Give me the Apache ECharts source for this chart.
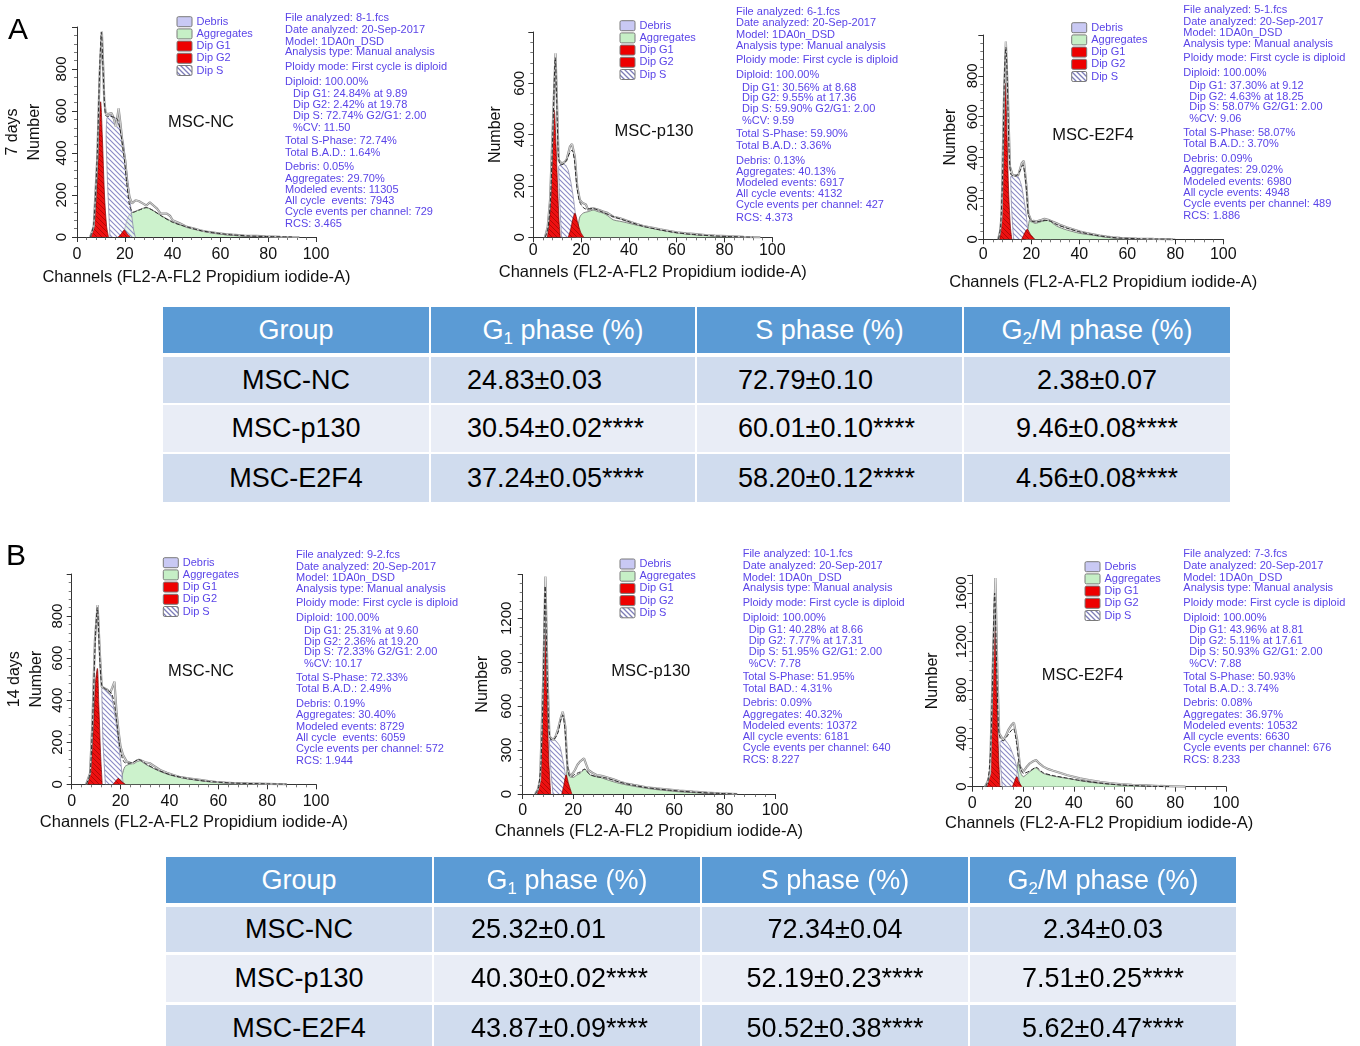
<!DOCTYPE html>
<html><head><meta charset="utf-8">
<script src="https://cdn.jsdelivr.net/npm/echarts@6/dist/echarts.min.js"></script>
<style>
html,body{margin:0;padding:0;background:#fff;width:1360px;height:1046px;overflow:hidden;}
#chart{position:absolute;left:0;top:0;width:1360px;height:1046px;}
.cell{position:absolute;box-sizing:border-box;font-family:"Liberation Sans",Arial,Helvetica,sans-serif;font-size:27px;display:flex;align-items:center;white-space:nowrap;color:#000;}
.cell sub{font-size:17px;vertical-align:-5px;line-height:0;}
.hdr{background:#5b9bd5;color:#fff;justify-content:center;}
.r1{background:#d0dcee;}
.r2{background:#e9edf6;}
</style></head><body>
<div id="chart"></div>
<div id="tables"></div>
<script>
// ---------------- DATA ----------------
const xAxisTitle = 'Channels (FL2-A-FL2 Propidium iodide-A)';
const legendItems = ['Debris', 'Aggregates', 'Dip G1', 'Dip G2', 'Dip S'];
const groupNames = ['MSC-NC', 'MSC-p130', 'MSC-E2F4'];
const panelLetters = ['A', 'B'];

// Panel A1 (7 days, MSC-NC)
const A1_data = [[5.5,0],[7,50],[8.5,380],[9.5,780],[10.4,978],[11,800],[11.4,650],[12,590],[13,585],[14.5,590],[15.5,560],[16.3,525],[17.4,612],[18.2,540],[19.2,430],[20.2,365],[21,260],[22,190],[23,160],[24.5,175],[26,170],[27.5,160],[29,150],[30.5,165],[32,150],[33.5,135],[35,111],[37.6,111],[39,100],[40,80],[43,65],[46,48],[49,40],[51.5,32],[55,24],[58.5,19],[62,14],[65,11],[70,7],[75,5],[79,3],[85,1],[93,0]];
const A1_fit = [[5.6,0],[7,60],[8.5,400],[9.5,800],[10.2,975],[10.9,800],[11.6,620],[12.3,575],[14,575],[15.5,570],[17,560],[18.5,480],[19.8,370],[20.8,260],[22,150],[23.5,118],[26,128],[29,140],[32,125],[36,95],[40,70],[46,48],[52,30],[58,19],[65,10],[72,5],[80,2],[90,0]];
const A1_g1 = [[5.6,0],[7,40],[8.2,200],[9.2,480],[9.9,644],[10.6,480],[11.5,200],[12.4,50],[13.2,0]];
const A1_s = [[13.8,0],[12.8,250],[12.2,480],[12.5,565],[13.5,578],[15.3,575],[16.5,560],[17.4,540],[18.5,490],[19.5,445],[20.5,340],[21.6,238],[22.7,120],[23.7,32],[24.4,0]];
const A1_g2 = [[17.3,0],[18.5,15],[19.8,33],[21,15],[22.3,0]];
const A1_agg = [[18.7,0],[20,40],[21,85],[22.3,111],[24,120],[26,130],[29,140],[32,125],[35,103],[37.6,87],[40,72],[43,58],[46,48],[50,35],[54,24],[58,16],[62,11],[66,7],[72,4],[79,2],[88,0]];
const A1_info = ['File analyzed: 8-1.fcs','Date analyzed: 20-Sep-2017','Model: 1DA0n_DSD','Analysis type: Manual analysis','Ploidy mode: First cycle is diploid','Diploid: 100.00%','Dip G1: 24.84% at 9.89','Dip G2: 2.42% at 19.78','Dip S: 72.74% G2/G1: 2.00','%CV: 11.50','Total S-Phase: 72.74%','Total B.A.D.: 1.64%','Debris: 0.05%','Aggregates: 29.70%','Modeled events: 11305','All cycle  events: 7943','Cycle events per channel: 729','RCS: 3.465'];

// Panel A2 (7 days, MSC-p130)
const A2_data = [[4.9,0],[6,40],[7,145],[8.4,496],[9.3,717],[10,496],[10.6,301],[11.9,288],[13,292],[13.9,301],[15.3,353],[16.2,364],[17.4,314],[18.4,197],[19.5,145],[20.5,135],[21.2,132],[22,128],[23,106],[24,112],[25.1,113],[27,108],[29.3,100],[31,95],[33.5,80],[36,75],[39,65],[42,56],[46,44],[50,37],[53,31],[57,24],[60,19],[64,15],[67,13],[72,9],[76,7],[81,5],[88,2],[95,0]];
const A2_fit = [[5,0],[6.2,40],[7.2,150],[8.3,450],[9.2,700],[9.9,500],[10.5,320],[11.3,282],[12.5,285],[13.9,300],[15.3,330],[16.2,340],[17.2,300],[18.2,200],[19.3,140],[20.5,120],[22,110],[25,112],[29,98],[33,82],[39,64],[46,43],[53,29],[60,18],[67,11],[75,6],[82,3],[92,0]];
const A2_g1 = [[5.9,0],[7,94],[7.9,300],[8.8,496],[9.5,360],[10.2,190],[10.8,60],[11.3,0]];
const A2_s = [[11.8,0],[11,150],[10.6,275],[11.5,285],[12.6,288],[13.6,280],[14.6,262],[15.7,215],[16.7,158],[17.5,100],[18.1,55],[18.8,0]];
const A2_g2 = [[14.6,0],[15.6,30],[16.5,70],[17.4,94],[18.5,60],[19.8,20],[21.2,0]];
const A2_agg = [[18,0],[18.8,45],[19.5,80],[21,95],[23,100],[25.1,106],[27,100],[29.3,94],[31,85],[33.5,68],[36,63],[39,57],[42,50],[46,42],[50,35],[53,29],[57,23],[60,18],[64,13],[67,10],[72,7],[76,5],[81,3],[86,0]];
const A2_info = ['File analyzed: 6-1.fcs','Date analyzed: 20-Sep-2017','Model: 1DA0n_DSD','Analysis type: Manual analysis','Ploidy mode: First cycle is diploid','Diploid: 100.00%','Dip G1: 30.56% at 8.68','Dip G2: 9.55% at 17.36','Dip S: 59.90% G2/G1: 2.00','%CV: 9.59','Total S-Phase: 59.90%','Total B.A.D.: 3.36%','Debris: 0.13%','Aggregates: 40.13%','Modeled events: 6917','All cycle events: 4132','Cycle events per channel: 427','RCS: 4.373'];

// Panel A3 (7 days, MSC-E2F4)
const A3_data = [[6.2,0],[7,40],[7.6,111],[8.6,682],[9.4,968],[10.3,682],[11.1,356],[12.2,315],[13.5,312],[14.6,315],[16,372],[16.9,384],[18,258],[18.75,127],[20.1,87],[21,90],[22.2,87],[23.3,92],[24.3,95],[25.5,100],[27,95],[28.5,88],[30.6,78],[32.5,68],[34.7,59],[37,50],[40.3,38],[43,30],[45.8,24],[48.5,18],[51.4,13],[54,10],[57,7],[64,4],[71,2],[79,0]];
const A3_fit = [[6.3,0],[7.2,60],[8,300],[8.8,800],[9.4,940],[10,780],[10.7,450],[11.4,320],[12.5,310],[14,312],[15.3,335],[16.5,365],[17.3,320],[18,240],[18.8,120],[20,90],[22.2,85],[24.3,90],[27,92],[30.6,72],[34.7,55],[40.3,36],[45.8,22],[51.4,12],[57,6],[64,3],[72,1],[80,0]];
const A3_g1 = [[6.9,0],[7.7,120],[8.5,450],[9.2,764],[9.9,500],[10.6,220],[11.3,60],[11.9,0]];
const A3_s = [[12.6,0],[11.8,150],[11.4,307],[12.5,312],[13.9,315],[15,295],[16,258],[17,190],[17.8,127],[18.3,70],[18.75,29],[19.4,0]];
const A3_g2 = [[16,0],[17,25],[18.3,49],[19.6,25],[21.5,0]];
const A3_agg = [[17.8,0],[18.6,50],[19.4,95],[20.5,85],[21.5,78],[23,82],[24.3,87],[25.5,92],[27,95],[28.5,82],[30.6,65],[32.5,55],[34.7,46],[37.5,37],[40.3,29],[43,24],[45.8,20],[48.5,15],[51.4,10],[54,6],[57,3],[62,0]];
const A3_info = ['File analyzed: 5-1.fcs','Date analyzed: 20-Sep-2017','Model: 1DA0n_DSD','Analysis type: Manual analysis','Ploidy mode: First cycle is diploid','Diploid: 100.00%','Dip G1: 37.30% at 9.12','Dip G2: 4.63% at 18.25','Dip S: 58.07% G2/G1: 2.00','%CV: 9.06','Total S-Phase: 58.07%','Total B.A.D.: 3.70%','Debris: 0.09%','Aggregates: 29.02%','Modeled events: 6980','All cycle events: 4948','Cycle events per channel: 489','RCS: 1.886'];

// Panel B1 (14 days, MSC-NC)
const B1_data = [[5.9,0],[7.5,52],[8.5,300],[9.5,686],[10.6,852],[11.6,607],[12.3,464],[13,455],[13.6,456],[14.6,450],[15.7,433],[16.6,460],[17.5,488],[18.4,338],[19.2,250],[20,179],[21,140],[22.5,108],[24,102],[25.2,100],[26.5,110],[28,116],[30,105],[32,100],[34,85],[36.2,68],[39,55],[41.6,44],[44,36],[47,29],[50,25],[52.5,21],[56,15],[59.3,11],[63,8],[66,6],[72,4],[80,2],[88,0]];
const B1_fit = [[6,0],[7.5,50],[8.6,320],[9.7,700],[10.5,840],[11.4,620],[12.3,470],[13.6,455],[15,445],[16.4,430],[17.5,380],[18.4,300],[19.4,200],[20.3,140],[21.5,105],[23,100],[25.2,105],[27.3,118],[30.7,95],[34.8,70],[40.2,46],[47,28],[55,15],[66,6],[80,2],[88,0]];
const B1_g1 = [[6.5,0],[7.7,60],[8.8,250],[9.7,480],[10.5,551],[11.1,380],[11.8,150],[12.5,0]];
const B1_s = [[13.8,0],[12.8,200],[12.3,456],[13.2,455],[14.3,448],[15.4,435],[16.4,417],[17.4,350],[18.4,274],[19.2,190],[20,116],[20.6,50],[21.1,0]];
const B1_g2 = [[17,0],[18,15],[19.1,28],[20.3,15],[22,0]];
const B1_agg = [[19.8,0],[20.7,45],[21.8,84],[23.5,95],[25.2,100],[26.3,112],[27.3,119],[29,105],[30.7,92],[32.7,80],[34.8,68],[37.5,55],[40.2,44],[43.5,35],[47,27],[51,20],[55,14],[60,9],[66,6],[72,4],[80,2],[88,0]];
const B1_info = ['File analyzed: 9-2.fcs','Date analyzed: 20-Sep-2017','Model: 1DA0n_DSD','Analysis type: Manual analysis','Ploidy mode: First cycle is diploid','Diploid: 100.00%','Dip G1: 25.31% at 9.60','Dip G2: 2.36% at 19.20','Dip S: 72.33% G2/G1: 2.00','%CV: 10.17','Total S-Phase: 72.33%','Total B.A.D.: 2.49%','Debris: 0.19%','Aggregates: 30.40%','Modeled events: 8729','All cycle  events: 6059','Cycle events per channel: 572','RCS: 1.944'];

// Panel B2 (14 days, MSC-p130)
const B2_data = [[4.9,0],[6,30],[6.9,96],[8.2,825],[9,1485],[9.8,825],[10.6,392],[12.2,369],[13.2,400],[14.1,449],[15.1,520],[15.9,563],[16.9,460],[17.7,187],[18.8,118],[19.8,140],[20.7,164],[21.7,200],[22.7,221],[24.3,244],[25.2,200],[26,164],[27.6,145],[29.3,130],[31.3,124],[33.3,114],[36,100],[38.6,84],[41,72],[43.9,62],[46.5,54],[49,46],[53,38],[57,32],[62,24],[67.6,16],[73,10],[78,5],[85,0]];
const B2_fit = [[5,0],[6.2,40],[7.2,200],[8.2,800],[8.9,1420],[9.6,900],[10.4,450],[11.2,370],[12.5,375],[14,420],[15,500],[15.9,540],[16.8,430],[17.6,220],[18.5,125],[19.5,120],[20.7,135],[22.7,150],[24.5,170],[26.5,135],[29.3,118],[33.3,108],[38.6,80],[43.9,60],[49,44],[57,28],[67.6,13],[78,4],[85,0]];
const B2_g1 = [[5.8,0],[7,120],[8,600],[8.85,1110],[9.6,700],[10.3,250],[11.1,0]];
const B2_s = [[12,0],[11,200],[10.6,369],[11.7,372],[12.8,369],[13.8,350],[14.8,323],[15.6,260],[16.4,187],[17,120],[17.4,73],[18.1,0]];
const B2_g2 = [[15.5,0],[16.3,60],[17.2,130],[18.2,70],[19.5,0]];
const B2_agg = [[16.8,0],[17.3,100],[17.7,187],[18.2,140],[18.8,118],[20,114],[21.3,128],[22.7,141],[24.7,169],[25.7,150],[26.7,130],[28.5,120],[30.6,114],[33,100],[35.9,84],[38.5,72],[41.2,62],[45,50],[49,39],[53,30],[57,23],[62,15],[67.6,9],[73,4],[78,0]];
const B2_info = ['File analyzed: 10-1.fcs','Date analyzed: 20-Sep-2017','Model: 1DA0n_DSD','Analysis type: Manual analysis','Ploidy mode: First cycle is diploid','Diploid: 100.00%','Dip G1: 40.28% at 8.66','Dip G2: 7.77% at 17.31','Dip S: 51.95% G2/G1: 2.00','%CV: 7.78','Total S-Phase: 51.95%','Total BAD.: 4.31%','Debris: 0.09%','Aggregates: 40.32%','Modeled events: 10372','All cycle events: 6181','Cycle events per channel: 640','RCS: 8.227'];

// Panel B3 (14 days, MSC-E2F4)
const B3_data = [[5,0],[6,40],[7,110],[8,938],[9.1,1724],[9.9,938],[10.6,441],[12.2,386],[13.2,420],[14.2,469],[15.3,505],[16.4,530],[17.7,386],[18.8,166],[20.1,124],[21.3,160],[22.7,193],[24,210],[25.1,221],[26.5,190],[28,166],[30,145],[31.9,132],[34.5,115],[37.2,97],[40,82],[42.4,69],[46,55],[50.3,41],[54,30],[58.2,22],[63,16],[68.7,11],[74,6],[79,3],[84,0]];
const B3_fit = [[5.2,0],[6.2,50],[7.2,300],[8,900],[8.8,1600],[9.6,1000],[10.3,500],[11,400],[12.2,380],[13.5,410],[14.8,450],[16.2,480],[17.3,380],[18.3,220],[19.2,140],[20.1,110],[22.7,130],[25.1,160],[28,115],[31.9,92],[37.2,72],[42.4,52],[50.3,30],[58.2,15],[68.7,5],[78,0]];
const B3_g1 = [[6,0],[7,150],[7.9,700],[8.8,1420],[9.6,800],[10.3,300],[10.9,0]];
const B3_s = [[11.8,0],[11.1,200],[10.9,372],[11.9,385],[12.9,386],[13.9,360],[14.8,331],[15.8,280],[16.8,221],[17.5,160],[18.1,110],[18.5,50],[18.8,0]];
const B3_g2 = [[15.8,0],[16.6,40],[17.5,83],[18.4,40],[19.5,0]];
const B3_agg = [[16.8,0],[17.5,100],[18.1,207],[18.8,130],[20.1,83],[21.3,100],[22.7,124],[24,145],[25.1,157],[26.5,130],[28,110],[30,97],[31.9,88],[34.5,78],[37.2,69],[40,59],[42.4,50],[46,38],[50.3,28],[54,20],[58.2,14],[63,8],[68.7,3],[72,0]];
const B3_info = ['File analyzed: 7-3.fcs','Date analyzed: 20-Sep-2017','Model: 1DA0n_DSD','Analysis type: Manual analysis','Ploidy mode: First cycle is diploid','Diploid: 100.00%','Dip G1: 43.96% at 8.81','Dip G2: 5.11% at 17.61','Dip S: 50.93% G2/G1: 2.00','%CV: 7.88','Total S-Phase: 50.93%','Total B.A.D.: 3.74%','Debris: 0.08%','Aggregates: 36.97%','Modeled events: 10532','All cycle events: 6630','Cycle events per channel: 676','RCS: 8.233'];

// Tables
const tableHeaders = ['Group', 'G<sub>1</sub> phase (%)', 'S phase (%)', 'G<sub>2</sub>/M phase (%)'];
const tA_G1 = ['24.83±0.03', '30.54±0.02****', '37.24±0.05****'];
const tA_S = ['72.79±0.10', '60.01±0.10****', '58.20±0.12****'];
const tA_G2M = ['2.38±0.07', '9.46±0.08****', '4.56±0.08****'];
const tB_G1 = ['25.32±0.01', '40.30±0.02****', '43.87±0.09****'];
const tB_S = ['72.34±0.04', '52.19±0.23****', '50.52±0.38****'];
const tB_G2M = ['2.34±0.03', '7.51±0.25****', '5.62±0.47****'];

// ---------------- STYLE / LAYOUT ----------------
const FONT = '"Liberation Sans", Arial, Helvetica, sans-serif';
const INFO_COLOR = '#5a44e8';

function hatch(bg, fg, size, lw) {
  const c = document.createElement('canvas');
  c.width = size; c.height = size;
  const ctx = c.getContext('2d');
  if (bg) { ctx.fillStyle = bg; ctx.fillRect(0, 0, size, size); }
  ctx.strokeStyle = fg; ctx.lineWidth = lw; ctx.lineCap = 'square';
  ctx.beginPath();
  ctx.moveTo(-1, -1); ctx.lineTo(size + 1, size + 1);
  ctx.moveTo(size - 1, -1); ctx.lineTo(size + 1, 1);
  ctx.moveTo(-1, size - 1); ctx.lineTo(1, size + 1);
  ctx.stroke();
  return c;
}
const sPattern = { image: hatch('rgba(255,255,255,0.55)', '#8a8ac6', 5, 1.1), repeat: 'repeat' };
const sLegendPattern = { image: hatch('#ffffff', '#7c7cb8', 5, 1.3), repeat: 'repeat' };
const redPattern = { image: hatch('#ee1010', 'rgba(110,0,0,0.55)', 5, 0.9), repeat: 'repeat' };
const legendFills = ['#c9c9f4', '#c6efc6', '#ee0000', '#ee0000', sLegendPattern];

const panels = [
  { grid:{left:77,top:27,width:239,height:210}, yMax:1000, yInt:200, yLabMax:800, xLabM:10, xNameGap:31.5, yLabM:8, yNameGap:32, yName:'7 days\nNumber',
    d:[A1_data,A1_fit,A1_g1,A1_s,A1_g2,A1_agg], info:A1_info, infoPos:[285,18.3], ind:8, legend:[177,21.7], group:0, groupPos:[201,122] },
  { grid:{left:533.3,top:32,width:239,height:205.3}, yMax:800, yInt:200, yLabMax:600, xLabM:5.5, xNameGap:27, yLabM:6, yNameGap:27, yName:'Number',
    d:[A2_data,A2_fit,A2_g1,A2_s,A2_g2,A2_agg], info:A2_info, infoPos:[736,11.7], ind:6, legend:[620,25.7], group:1, groupPos:[654,131.7] },
  { grid:{left:983.3,top:35,width:240,height:204.3}, yMax:1000, yInt:200, yLabMax:800, xLabM:7.7, xNameGap:35, yLabM:3, yNameGap:22, yName:'Number',
    d:[A3_data,A3_fit,A3_g1,A3_s,A3_g2,A3_agg], info:A3_info, infoPos:[1183.3,10], ind:6, legend:[1071.7,27.7], group:2, groupPos:[1093,135] },
  { grid:{left:71.7,top:574,width:244.3,height:210.3}, yMax:1000, yInt:200, yLabMax:800, xLabM:9.4, xNameGap:30, yLabM:6, yNameGap:24.4, yName:'14 days\nNumber',
    d:[B1_data,B1_fit,B1_g1,B1_s,B1_g2,B1_agg], info:B1_info, infoPos:[296,555], ind:8, legend:[163.3,562.7], group:0, groupPos:[201,671.7] },
  { grid:{left:522.7,top:574.4,width:252.3,height:219.6}, yMax:1500, yInt:300, yLabMax:1200, xLabM:8.7, xNameGap:29.4, yLabM:8.5, yNameGap:29.7, yName:'Number',
    d:[B2_data,B2_fit,B2_g1,B2_s,B2_g2,B2_agg], info:B2_info, infoPos:[742.7,554.3], ind:6, legend:[620,564], group:1, groupPos:[650.8,671.7] },
  { grid:{left:972.3,top:575,width:253.7,height:211.7}, yMax:1750, yInt:400, yLabMax:1600, xLabM:8.6, xNameGap:28.4, yLabM:3, yNameGap:29.3, yName:'Number',
    d:[B3_data,B3_fit,B3_g1,B3_s,B3_g2,B3_agg], info:B3_info, infoPos:[1183.3,554.3], ind:6, legend:[1085,566.7], group:2, groupPos:[1082.5,675] }
];
const infoOffsets = [0,11.7,23.4,34,48.4,63.4,76,86.7,97.4,109.4,122.7,134.4,149,160.4,171.7,182.7,193.7,206];

const option = { animation:false, backgroundColor:'#ffffff', grid:[], xAxis:[], yAxis:[], series:[], graphic:[] };
const axisCommon = {
  axisLine:{ show:true, onZero:false, lineStyle:{ color:'#333', width:1 } },
  axisTick:{ show:true, length:5, lineStyle:{ color:'#333', width:1 } },
  minorTick:{ show:true, splitNumber:5, length:3, lineStyle:{ color:'#555', width:0.8 } },
  splitLine:{ show:false }, minorSplitLine:{ show:false }
};

panels.forEach((p, i) => {
  option.grid.push(Object.assign({ containLabel:false }, p.grid));
  option.xAxis.push(Object.assign({}, axisCommon, {
    type:'value', gridIndex:i, min:0, max:100, interval:20,
    name:xAxisTitle, nameLocation:'middle', nameGap:p.xNameGap,
    nameTextStyle:{ fontSize:16.5, color:'#111', fontFamily:FONT },
    axisLabel:{ fontSize:16, color:'#111', fontFamily:FONT, margin:p.xLabM }
  }));
  option.yAxis.push(Object.assign({}, axisCommon, {
    type:'value', gridIndex:i, min:0, max:p.yMax, interval:p.yInt,
    name:p.yName, nameLocation:'middle', nameRotate:90, nameGap:p.yNameGap,
    nameTextStyle:{ fontSize:16, color:'#111', fontFamily:FONT, lineHeight:21.5 },
    axisLabel:{ rotate:90, fontSize:15, color:'#111', fontFamily:FONT, margin:p.yLabM,
      formatter:(v) => (v > p.yLabMax ? '' : String(v)) }
  }));
  const [data, fit, g1, s, g2, agg] = p.d;
  const base = { type:'line', xAxisIndex:i, yAxisIndex:i, showSymbol:false, symbol:'none', silent:true };
  option.series.push(Object.assign({}, base, { name:'Aggregates', data:agg, smooth:0.3, z:1,
    areaStyle:{ color:'#ccf2cc', opacity:1 }, lineStyle:{ color:'#6a6a6a', width:0.8 } }));
  option.series.push(Object.assign({}, base, { name:'Dip S', data:s, smooth:0.15, z:2,
    areaStyle:{ color:sPattern, opacity:1 }, lineStyle:{ color:'#8a8aa8', width:0.8 } }));
  option.series.push(Object.assign({}, base, { name:'Dip G1', data:g1, smooth:0.3, z:3,
    areaStyle:{ color:redPattern, opacity:1 }, lineStyle:{ color:'#7a0000', width:0.7 } }));
  option.series.push(Object.assign({}, base, { name:'Dip G2', data:g2, smooth:0.3, z:3,
    areaStyle:{ color:redPattern, opacity:1 }, lineStyle:{ color:'#7a0000', width:0.7 } }));
  option.series.push(Object.assign({}, base, { name:'Data', data:data, z:4,
    lineStyle:{ color:'#8c8c8c', width:2.2 } }));
  option.series.push(Object.assign({}, base, { name:'Data inner', data:data, z:5,
    lineStyle:{ color:'#f2f2f2', width:0.7 } }));
  option.series.push(Object.assign({}, base, { name:'Fit', data:fit, smooth:0.25, z:6,
    lineStyle:{ color:'#2a2a2a', width:1, type:[4,2] } }));

  // legend
  legendItems.forEach((name, k) => {
    const y = p.legend[1] + k * 12.2;
    option.graphic.push({ type:'rect', silent:true, shape:{ x:p.legend[0], y:y - 5, width:15, height:10, r:1.5 },
      style:{ fill:legendFills[k], stroke:'#7a7a7a', lineWidth:1 } });
    option.graphic.push({ type:'text', silent:true, x:p.legend[0] + 19.5, y:y,
      style:{ text:name, fontSize:11, fontFamily:FONT, fill:INFO_COLOR, verticalAlign:'middle', align:'left' } });
  });
  // info block
  p.info.forEach((line, k) => {
    const indent = (k >= 6 && k <= 9) ? p.ind : 0;
    option.graphic.push({ type:'text', silent:true, x:p.infoPos[0] + indent, y:p.infoPos[1] + infoOffsets[k],
      style:{ text:line, fontSize:11, fontFamily:FONT, fill:INFO_COLOR, verticalAlign:'middle', align:'left' } });
  });
  // group label
  option.graphic.push({ type:'text', silent:true, x:p.groupPos[0], y:p.groupPos[1],
    style:{ text:groupNames[p.group], fontSize:16.5, fontFamily:FONT, fill:'#111', verticalAlign:'middle', align:'center' } });
});
option.graphic.push({ type:'text', silent:true, x:8, y:31, style:{ text:panelLetters[0], fontSize:30, fontFamily:FONT, fill:'#000', verticalAlign:'middle' } });
option.graphic.push({ type:'text', silent:true, x:6, y:557, style:{ text:panelLetters[1], fontSize:30, fontFamily:FONT, fill:'#000', verticalAlign:'middle' } });

const chart = echarts.init(document.getElementById('chart'), null, { renderer:'canvas', width:1360, height:1046 });
chart.setOption(option);

// ---------------- TABLES ----------------
function buildTable(colX, colW, rowY, rowH, cols, aligns) {
  const host = document.getElementById('tables');
  const add = (x, y, w, h, cls, html, align) => {
    const d = document.createElement('div');
    d.className = 'cell ' + cls;
    d.style.left = x + 'px'; d.style.top = y + 'px'; d.style.width = w + 'px'; d.style.height = h + 'px';
    if (align === 'c') d.style.justifyContent = 'center';
    else if (typeof align === 'number') { d.style.justifyContent = 'flex-start'; d.style.paddingLeft = align + 'px'; }
    const span = document.createElement('span');
    span.innerHTML = html;
    d.appendChild(span);
    host.appendChild(d);
  };
  tableHeaders.forEach((h, c) => add(colX[c], rowY[0], colW[c], rowH[0], 'hdr', h, 'c'));
  for (let r = 0; r < 3; r++) {
    const cls = (r === 1) ? 'r2' : 'r1';
    cols.forEach((col, c) => add(colX[c], rowY[r + 1], colW[c], rowH[r + 1], cls, col[r], aligns[c]));
  }
}
buildTable([163,431,697,964], [266,264,265,266], [307,357,405,454], [46,46,47,48],
  [groupNames, tA_G1, tA_S, tA_G2M], ['c', 36, 41, 'c']);
buildTable([166,434,702,970], [266,266,266,266], [857,907,955,1005], [46,45,47,47],
  [groupNames, tB_G1, tB_S, tB_G2M], ['c', 37, 'c', 'c']);
</script></body></html>
